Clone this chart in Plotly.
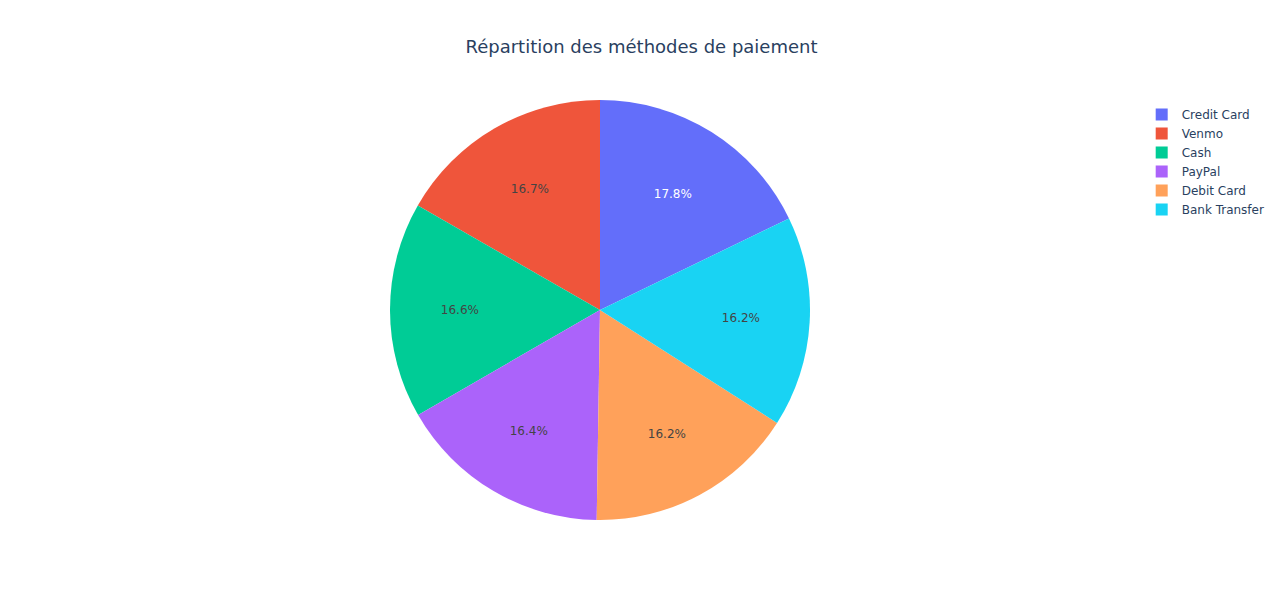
import plotly.graph_objects as go

methods = ["Credit Card", "Venmo", "Cash", "PayPal", "Debit Card", "Bank Transfer"]
counts = [178, 167, 166, 164, 162, 162]

fig = go.Figure(go.Pie(labels=methods, values=counts, sort=False))
fig.update_layout(
    title=dict(text="Répartition des méthodes de paiement", x=0.5,
               y=1 - 40 / 600, yref="container", yanchor="middle",
               font=dict(size=18)),
    font=dict(family="DejaVu Sans"),
    margin=dict(t=92, b=72, l=80, r=163, autoexpand=False),
    legend=dict(x=1.029, xanchor="left"),
    template="plotly",
)
fig.write_html("out.html")
